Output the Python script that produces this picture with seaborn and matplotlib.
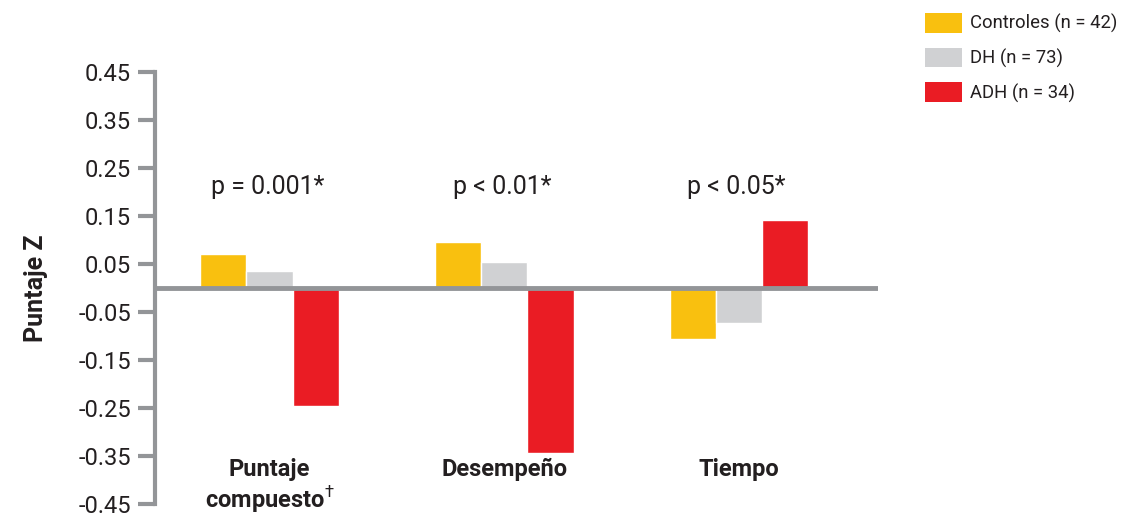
import pandas as pd
import matplotlib.pyplot as plt
import seaborn as sns
from matplotlib.patches import Patch

# values
categorias = ["Puntaje\ncompuesto$^{\\dagger}$", "Desempe\u00f1o", "Tiempo"]
grupos = ["Controles (n = 42)", "DH (n = 73)", "ADH (n = 34)"]
controles = [0.070, 0.096, -0.106]
dh = [0.035, 0.054, -0.073]
adh = [-0.245, -0.344, 0.142]
p_valores = ["p = 0.001*", "p < 0.01*", "p < 0.05*"]
yticks = [-0.45, -0.35, -0.25, -0.15, -0.05, 0.05, 0.15, 0.25, 0.35, 0.45]

colores = ["#F9C00F", "#D0D1D3", "#EA1C24"]
gris = "#939598"
texto = "#231F20"

rows = []
for serie, vals in zip(grupos, [controles, dh, adh]):
    for cat, v in zip(categorias, vals):
        rows.append({"cat": cat, "grupo": serie, "z": v})
data = pd.DataFrame(rows)

sns.set_style("white")
plt.rcParams['font.family'] = ['Roboto', 'DejaVu Sans']
plt.rcParams['mathtext.fontset'] = 'custom'
plt.rcParams['mathtext.rm'] = 'Roboto'

fig = plt.figure(figsize=(11.28, 5.19), dpi=100)
ax = fig.add_axes([0.137, 0.029, 0.641, 0.832])

sns.barplot(data=data, x="cat", y="z", hue="grupo", palette=colores,
            width=0.59, gap=0, saturation=1, ax=ax, legend=False)

ax.set_ylim(-0.45, 0.45)
ax.set_xlim(-0.49, 2.59)
ax.set_yticks(yticks)
ax.set_yticklabels([f"{t:.2f}" for t in yticks], fontsize=17, color=texto)
ax.set_xticks([])
ax.set_xlabel("")
ax.set_ylabel("Puntaje Z", fontsize=18, fontweight="bold", color=texto, labelpad=22)
ax.tick_params(axis="y", length=12, width=3, color=gris, pad=5, left=True)

for s in ["top", "right", "bottom"]:
    ax.spines[s].set_visible(False)
ax.spines["left"].set_color(gris)
ax.spines["left"].set_linewidth(3)
ax.axhline(0, color=gris, lw=3.5, zorder=5)

# category labels inside the plot area
for i, cat in enumerate(categorias):
    ax.text(i, -0.355, cat, ha="center", va="top", fontsize=17,
            fontweight="bold", color=texto, linespacing=1.1)

# p values
for i, p in enumerate(p_valores):
    ax.text(i - 0.01, 0.21, p, ha="center", va="center", fontsize=18, color=texto)

handles = [Patch(facecolor=c, edgecolor="none", label=g) for c, g in zip(colores, grupos)]
fig.legend(handles=handles, loc="upper left", bbox_to_anchor=(0.82, 0.975),
           frameon=False, fontsize=13.3, handlelength=2.0, handleheight=1.25,
           labelspacing=0.78, handletextpad=0.43, borderpad=0, borderaxespad=0,
           labelcolor=texto)

fig.savefig("out.png", dpi=100)
